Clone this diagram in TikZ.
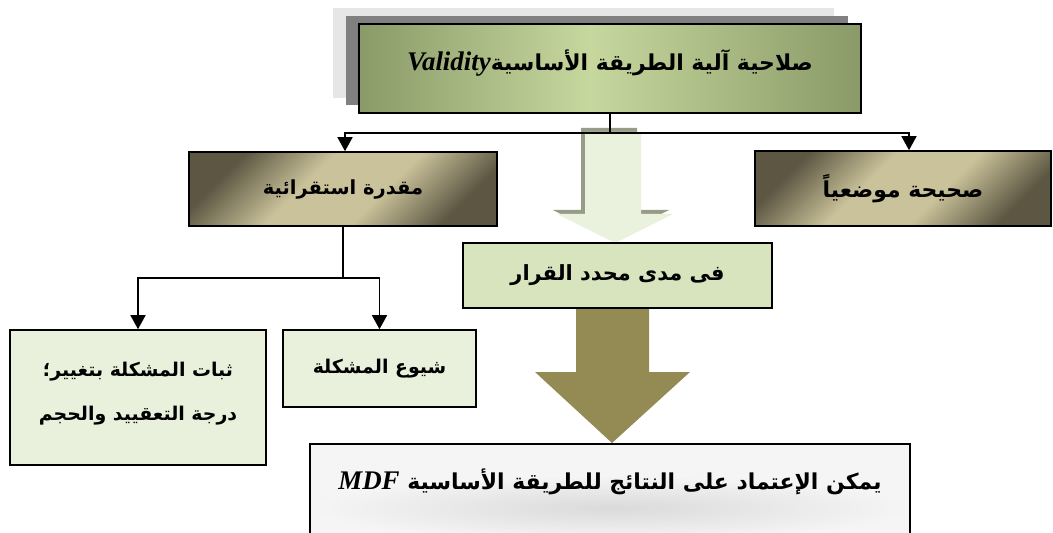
\documentclass[tikz,border=0pt]{standalone}
\usepackage{fontspec}
\usetikzlibrary{arrows.meta,calc}
\TeXXeTstate=1
\newfontfamily\arabicfont[Script=Arabic]{DejaVu Sans}
\newfontfamily\latinfont{Liberation Serif}

\definecolor{oliveedge}{RGB}{138,154,104}
\definecolor{olivemid}{RGB}{198,216,158}
\definecolor{tandark}{RGB}{92,86,66}
\definecolor{tanlight}{RGB}{202,194,154}
\definecolor{leafpale}{RGB}{233,240,220}
\definecolor{leafmid}{RGB}{215,228,189}
\definecolor{arrowpale}{RGB}{234,241,221}
\definecolor{arrowshade}{RGB}{150,156,135}
\definecolor{arrowolive}{RGB}{148,138,84}
\definecolor{shadowdark}{RGB}{128,128,128}
\definecolor{shadowlight}{RGB}{230,230,230}
\definecolor{paper}{RGB}{245,245,245}
\definecolor{papershade}{RGB}{218,218,218}

\pgfdeclarehorizontalshading{olivebar}{100bp}{color(0bp)=(oliveedge); color(25bp)=(oliveedge);
  color(48bp)=(olivemid); color(75bp)=(oliveedge); color(100bp)=(oliveedge)}
\pgfdeclarehorizontalshading{tanband}{100bp}{color(0bp)=(tandark); color(25bp)=(tandark);
  color(42bp)=(tanlight); color(58bp)=(tanlight); color(75bp)=(tandark); color(100bp)=(tandark)}

\newcommand{\ar}[1]{{\arabicfont\bfseries\beginR #1\endR}}
\newcommand{\lt}[2]{\beginL{\latinfont\bfseries\itshape\fontsize{#1}{#1}\selectfont #2}\endL}

\tikzset{
  box/.style={draw=black, line width=1.6bp, inner sep=0pt, anchor=center},
  conn/.style={line width=1.5bp, -{Triangle[width=15bp,length=14bp]}},
  plain/.style={line width=1.5bp},
}

\begin{document}
\begin{tikzpicture}[x=1bp, y=-1bp]
\useasboundingbox (0,0) rectangle (1053,533);
\clip (0,0) rectangle (1053,533);

% stacked shadows behind the title box
\fill[shadowlight] (333,8) rectangle (834,98);
\fill[shadowdark] (346,16) rectangle (848,105);

% title box
\node[box, shading=olivebar, minimum width=502bp, minimum height=89bp,
      font=\fontsize{22}{26}\selectfont] (top) at (610,68.5)
  {\raisebox{6bp}[\height][\depth]{\ar{صلاحية آلية الطريقة الأساسية\lt{27}{Validity}}}};

% pale downward arrow with its shadow
\fill[arrowshade] (581,128) -- (637,128) -- (637,210) -- (669,210) -- (611,240) -- (553,210) -- (581,210) -- cycle;
\fill[arrowpale] (585,132) -- (641,132) -- (641,214) -- (673,214) -- (615,243) -- (557,214) -- (585,214) -- cycle;

% second level
\node[box, shading=tanband, shading angle=-45, minimum width=308bp, minimum height=74bp,
      font=\fontsize{19.5}{24}\selectfont] (lbox) at (343,189)
  {\ar{مقدرة استقرائية}};
\node[box, shading=tanband, shading angle=-45, minimum width=296bp, minimum height=75bp,
      font=\fontsize{22}{26}\selectfont] (rbox) at (903,188.5)
  {\ar{صحيحة موضعياً}};

\coordinate (split) at ($(top.south)+(0,19)$);
\draw[plain] (top.south) -- (split);
\draw[conn] (split) -| ([xshift=2bp]lbox.north);
\draw[conn] (split) -| ([xshift=6bp]rbox.north);

% olive arrow to the conclusion
\fill[arrowolive] (576,306) -- (649,306) -- (649,372) -- (690,372) -- (612,443) -- (535,372) -- (576,372) -- cycle;

% decision box
\node[box, fill=leafmid, minimum width=309bp, minimum height=65bp,
      font=\fontsize{21}{25}\selectfont] (mid) at (617.5,275.5)
  {\ar{فى مدى محدد القرار}};

% third level
\node[box, fill=leafpale, minimum width=193bp, minimum height=77bp,
      font=\fontsize{19}{23}\selectfont] (spread) at (379.5,368.5)
  {\ar{شيوع المشكلة}};
\node[box, fill=leafpale, minimum width=256bp, minimum height=135bp,
      font=\fontsize{19}{45}\selectfont] (stable) at (138,397.5)
  {\raisebox{8bp}[\height][\depth]{\begin{tabular}{@{}c@{}}\ar{ثبات المشكلة بتغيير؛}\\ \ar{درجة التعقييد والحجم}\end{tabular}}};

\coordinate (fork) at ($(lbox.south)+(0,51)$);
\draw[plain] (lbox.south) -- (fork);
\draw[conn] (fork) -| (spread.north);
\draw[conn] (fork) -| (stable.north);

% conclusion box: soft grey fill with a hazy band under the text
\fill[paper] (310,444) rectangle (910,545);
\begin{scope}
  \clip (311,445) rectangle (909,545);
  \shade[inner color=papershade, outer color=paper] (612,508) ellipse (300 and 32);
\end{scope}
\node[box, minimum width=600bp, minimum height=101bp,
      font=\fontsize{22}{26}\selectfont] (bot) at (610,494.5)
  {\raisebox{13bp}[\height][\depth]{\ar{يمكن الإعتماد على النتائج للطريقة الأساسية \lt{27}{MDF}}}};
\end{tikzpicture}
\end{document}
